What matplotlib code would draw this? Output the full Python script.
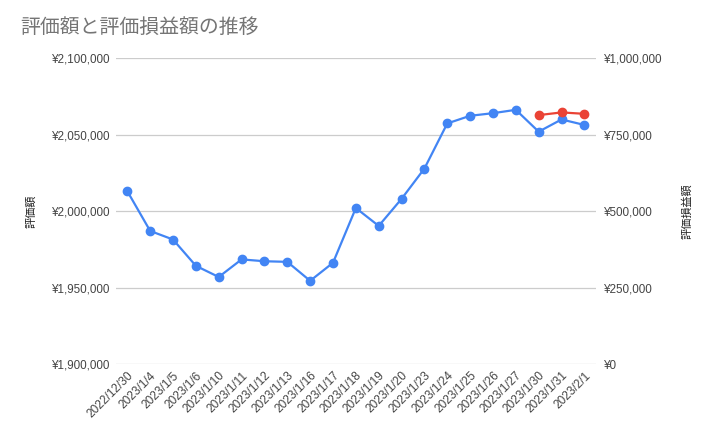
import matplotlib.pyplot as plt
from matplotlib.ticker import FuncFormatter

plt.rcParams['font.family'] = ['Liberation Sans', 'Noto Sans CJK JP', 'DejaVu Sans']

dates = ['2022/12/30', '2023/1/4', '2023/1/5', '2023/1/6', '2023/1/10', '2023/1/11',
         '2023/1/12', '2023/1/13', '2023/1/16', '2023/1/17', '2023/1/18', '2023/1/19',
         '2023/1/20', '2023/1/23', '2023/1/24', '2023/1/25', '2023/1/26', '2023/1/27',
         '2023/1/30', '2023/1/31', '2023/2/1']
valuation = [2013000, 1987000, 1981400, 1964200, 1956900, 1968400, 1967200, 1966800,
             1954400, 1966200, 2002000, 1990300, 2008000, 2027800, 2057300, 2062300,
             2064000, 2066200, 2051900, 2059900, 2056300]
# 評価損益額 only exists for the last three days
gain_idx = [18, 19, 20]
gain = [813700, 822500, 817900]

left_ticks = [1900000, 1950000, 2000000, 2050000, 2100000]
right_ticks = [0, 250000, 500000, 750000, 1000000]

blue = '#4285F4'
red = '#EA4335'
yen = FuncFormatter(lambda v, p: '¥{:,.0f}'.format(v))

fig = plt.figure(figsize=(7.11, 4.37), dpi=100)
ax = fig.add_axes([0.163, 0.167, 0.675, 0.700])
ax2 = ax.twinx()

x = list(range(len(dates)))
ax.plot(x, valuation, color=blue, lw=1.6, marker='o', ms=6, zorder=3)
ax2.plot(gain_idx, gain, color=red, lw=1.6, marker='o', ms=6, zorder=3)

ax.set_xlim(-0.5, len(dates) - 0.5)
ax.set_ylim(left_ticks[0], left_ticks[-1])
ax.set_yticks(left_ticks)
ax.yaxis.set_major_formatter(yen)
ax2.set_ylim(right_ticks[0], right_ticks[-1])
ax2.set_yticks(right_ticks)
ax2.yaxis.set_major_formatter(yen)

ax.grid(axis='y', color='#cccccc', lw=0.9)
ax.set_axisbelow(True)
for a in (ax, ax2):
    for s in a.spines.values():
        s.set_visible(False)
    a.tick_params(length=0, labelsize=8.4, labelcolor='#444444')
ax.tick_params(axis='y', pad=4)
ax2.tick_params(axis='y', pad=6)

ax.set_xticks(x)
ax.set_xticklabels(dates, rotation=45, ha='right', rotation_mode='anchor', fontsize=8.6)
ax.tick_params(axis='x', pad=4)

ax.set_ylabel('評価額', family=['Noto Sans CJK JP'], fontsize=8, color='#222222', labelpad=11)
ax2.set_ylabel('評価損益額', family=['Noto Sans CJK JP'], fontsize=8, color='#222222',
               rotation=90, labelpad=14)

fig.text(0.028, 0.937, '評価額と評価損益額の推移', family=['Noto Sans CJK JP'],
         fontsize=14.3, color='#757575', va='center')

fig.savefig('out.png', dpi=100)
